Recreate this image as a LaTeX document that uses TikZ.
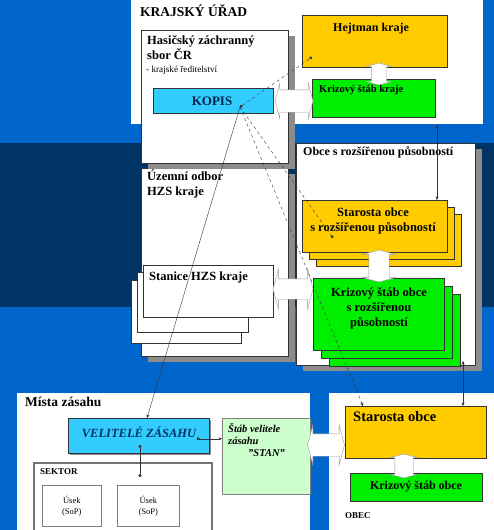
\documentclass[tikz,border=0pt]{standalone}
\usepackage{fontspec}
\setmainfont{Liberation Serif}
\usetikzlibrary{positioning,shapes.arrows,shadows,arrows.meta}

\definecolor{slideblue}{RGB}{0,102,204}
\definecolor{slidenavy}{RGB}{0,51,102}
\definecolor{gold}{RGB}{255,204,0}
\definecolor{krizgreen}{RGB}{0,238,0}
\definecolor{kopiscyan}{RGB}{51,204,255}
\definecolor{stangreen}{RGB}{204,255,204}

\begin{document}
\begin{tikzpicture}
%defines
  [x=1pt,y=-1pt,
panel/.style={fill=white,inner sep=0pt,anchor=north west},
card/.style={draw=black!80,line width=0.6pt,inner sep=0pt,anchor=north west},
shadowed/.style={drop shadow={shadow xshift=7pt,shadow yshift=-6pt,fill=black!45,opacity=1}},
txt/.style={inner sep=0pt,font=\bfseries\fontsize{12.5}{15}\selectfont},
small/.style={inner sep=0pt,font=\fontsize{9}{11}\selectfont},
blockh/.style={shape=double arrow,fill=white,draw=black!40,thin,
double arrow tip angle=150,inner xsep=0pt},
blockv/.style={blockh,rotate=90},
conn/.style={black!80,thin,>={Stealth[length=3.5pt,width=3pt]}},
dotend/.style={-{Circle[length=3pt]}}]
\useasboundingbox (0,0) rectangle (494,530);
% background of the slide
\fill[slideblue] (0,0) rectangle (494,530);
\fill[slidenavy] (0,143) rectangle (494,307);
% panels
\node[panel,minimum width=352pt,minimum height=124pt] (kraj) at (131,0) {};
\node[panel,minimum width=293pt,minimum height=137pt] (mista) at (17,393) {};
\node[panel,minimum width=165pt,minimum height=137pt] (obec) at (329,393) {};
\node[txt,anchor=north west,font=\bfseries\fontsize{13.5}{15}\selectfont] (krajtitle) at (140,5) {KRAJSKÝ ÚŘAD};
\node[txt,anchor=north west,font=\bfseries\fontsize{13.5}{15}\selectfont] (mistatitle) at (25,397) {Místa zásahu};
\node[small,anchor=north west,font=\bfseries\fontsize{9}{11}\selectfont] (obectitle) at (345,512) {OBEC};
% hasici column
\node[card,fill=white,shadowed,minimum width=147pt,minimum height=188pt] (uzemni) at (141,168) {};
\node[card,fill=white,shadowed,minimum width=147pt,minimum height=133pt] (hzs) at (141,30) {};
\node[txt,anchor=north west,align=left] (hzstext) at (147,35) {Hasičský záchranný\\sbor ČR};
\node[small,anchor=north west,font=\fontsize{9.2}{11}\selectfont] (hzssub) at (146,66) {- krajské ředitelství};
\node[txt,anchor=north west,align=left] (uzemnitext) at (147,170) {Územní odbor\\HZS kraje};
\node[card,fill=kopiscyan,minimum width=120pt,minimum height=25pt] (kopis) at (153,88) {};
\node[txt,text=slidenavy!70!black,font=\bfseries\fontsize{13}{15}\selectfont] (kopistext) at (212,101) {KOPIS};
% stanice HZS, stacked
\node[card,fill=white,minimum width=110pt,minimum height=63pt] (stanice3) at (131,280) {};
\node[card,fill=white,minimum width=111pt,minimum height=60pt] (stanice2) at (137,272) {};
\node[card,fill=white,line width=0.9pt,minimum width=130pt,minimum height=52pt] (stanice) at (143,265) {};
\node[txt,anchor=north west] (stanicetext) at (149,272) {Stanice HZS kraje};
% hejtman and krizovy stab kraje
\node[card,fill=gold,minimum width=145pt,minimum height=52pt] (hejtman) at (302,15) {};
\node[txt,font=\bfseries\fontsize{12}{14}\selectfont] (hejtmantext) at (371,29) {Hejtman kraje};
\node[card,fill=krizgreen,minimum width=123pt,minimum height=38pt] (kskraj) at (312,79) {};
\node[txt,anchor=north west,font=\bfseries\fontsize{10.5}{12}\selectfont] (kskrajtext) at (319,85) {Krizový štáb kraje};
% obce s rozsirenou pusobnosti
\node[card,fill=white,shadowed,minimum width=179pt,minimum height=222pt] (orp) at (296,143) {};
\node[txt,anchor=north west,font=\bfseries\fontsize{12}{14}\selectfont] (orptitle) at (303,147) {Obce s rozšířenou působností};
\foreach \d in {14,7,0}
  \node[card,fill=gold,minimum width=145pt,minimum height=52pt] (starorp\d) at (302+\d,200+\d) {};
\node[txt,align=center] (starorptext) at (373,221) {Starosta obce\\s rozšířenou působností};
\foreach \d in {16,8,0}
  \node[card,fill=krizgreen,minimum width=131pt,minimum height=72pt] (ksorp\d) at (313+\d,278+\d) {};
\node[txt,align=center] (ksorptext) at (379,308) {Krizový štáb obce\\s rozšířenou\\působností};
% obec
\node[card,fill=gold,minimum width=141pt,minimum height=52pt] (starobce) at (345,406) {};
\node[txt,anchor=north west,font=\bfseries\fontsize{14.5}{16}\selectfont] (starobcetext) at (353,411) {Starosta obce};
\node[card,fill=krizgreen,minimum width=132pt,minimum height=28pt] (ksobce) at (350,473) {};
\node[txt,font=\bfseries\fontsize{12}{14}\selectfont] (ksobcetext) at (416,487) {Krizový štáb obce};
% mista zasahu
\node[card,fill=kopiscyan,drop shadow={shadow xshift=2pt,shadow yshift=-2pt,fill=black!45,opacity=1},
minimum width=141pt,minimum height=35pt] (velitele) at (68,418) {};
\node[txt,text=slidenavy,font=\bfseries\itshape\fontsize{12.5}{14}\selectfont] (veliteletext) at (139,432) {VELITELÉ ZÁSAHU};
\node[card,fill=stangreen,draw=black!50,minimum width=88pt,minimum height=76pt] (stan) at (222,418) {};
\node[txt,anchor=north west,align=left,font=\bfseries\itshape\fontsize{10.5}{12}\selectfont] (stantext) at (228,423)
  {Štáb velitele\\zásahu\\\hspace*{20pt}"STAN"};
\node[card,draw=black!55,line width=2pt,minimum width=178pt,minimum height=75pt] (sektor) at (33,462) {};
\node[small,anchor=north west,font=\bfseries\fontsize{9}{11}\selectfont] (sektortext) at (40,468) {SEKTOR};
\node[card,draw=black!50,minimum width=59pt,minimum height=41pt] (usek1) at (42,485) {};
\node[card,draw=black!50,minimum width=62pt,minimum height=41pt] (usek2) at (117,485) {};
\node[small,align=center,font=\fontsize{8.5}{11}\selectfont] (usek1text) at (usek1) {Úsek\\(SoP)};
\node[small,align=center,font=\fontsize{8.5}{11}\selectfont] (usek2text) at (usek2) {Úsek\\(SoP)};
% block arrows
\node[blockh,minimum height=38pt,inner ysep=11pt,double arrow head extend=6.5pt] (bkopis) at (294,101) {};
\node[blockh,minimum height=40pt,inner ysep=10pt,double arrow head extend=10pt] (bstanice) at (293,289) {};
\node[blockh,minimum height=37pt,inner ysep=11pt,double arrow head extend=9pt] (bstan) at (326,445) {};
\node[blockv,minimum height=22pt,inner ysep=7.5pt,double arrow head extend=5.5pt] (bkraj) at (379,74) {};
\node[blockv,minimum height=32pt,inner ysep=10pt,double arrow head extend=6pt] (borp) at (379,266) {};
\node[blockv,minimum height=24pt,inner ysep=9pt,double arrow head extend=5pt] (bobec) at (404,466) {};
% connectors
\coordinate (kopisdot) at (240,107);
\coordinate (hejtmandot) at (312,57);
\coordinate (starorpdot) at (333,238);
\coordinate (krajend) at (437,125);
\coordinate (orpend) at (463,361);
\draw[conn,dashed,{Circle[length=3pt]}-{Circle[length=3pt]}] (kopisdot) -- (hejtmandot);
\draw[conn,dashed,dotend] (kopisdot) -- (starorpdot);
\draw[conn,dashed,->] (kopisdot) -- (starobce.north west -| 363,0);
\draw[conn,->] (kopisdot) -- (velitele.north west -| 147,0);
\draw[conn,<->] (krajend) -- (starorp0.north -| krajend);
\draw[conn,<->] (orpend) -- (starobce.north -| orpend);
\draw[conn,{Circle[length=3pt]}->] (velitele.east) ++(-13,3) coordinate (veldot) -- (veldot -| stan.west);
\draw[conn,{Circle[length=3pt]}-{Circle[length=3pt]}] (140,445) coordinate (veldown) -- (veldown |- 477,477);
\end{tikzpicture}
\end{document}
